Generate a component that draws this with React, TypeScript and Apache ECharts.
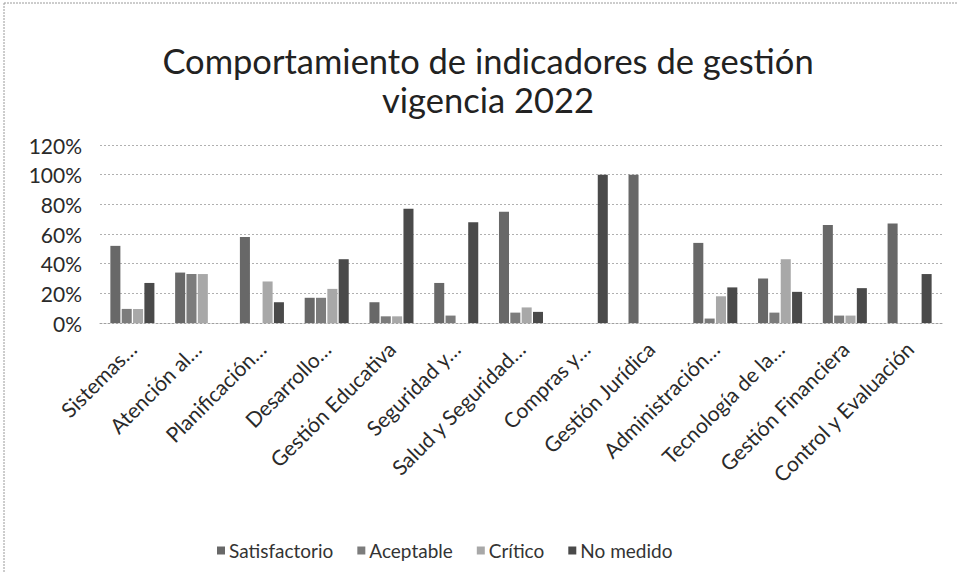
import React, { useEffect, useRef } from "react";
import * as echarts from "echarts";

const titleLines = ["Comportamiento de indicadores de gestión", "vigencia 2022"];

const categories = [
  "Sistemas…",
  "Atención al…",
  "Planificación…",
  "Desarrollo…",
  "Gestión Educativa",
  "Seguridad y…",
  "Salud y Seguridad…",
  "Compras y…",
  "Gestión Jurídica",
  "Administración…",
  "Tecnología de la…",
  "Gestión Financiera",
  "Control y Evaluación",
];

const seriesNames = ["Satisfactorio", "Aceptable", "Crítico", "No medido"];

const satisfactorio = [52, 34, 58, 17, 14, 27, 75, 0, 100, 54, 30, 66, 67];
const aceptable = [9.5, 33, 0, 17, 4.5, 5, 7, 0, 0, 3, 7, 5, 0];
const critico = [9.5, 33, 28, 23, 4.5, 0, 10.5, 0, 0, 18, 43, 5, 0];
const noMedido = [27, 0, 14, 43, 77, 68, 7.5, 100, 0, 24, 21, 23.5, 33];

const yMin = 0;
const yMax = 120;
const yInterval = 20;

const colors = ["#686868", "#7c7c7c", "#a8a8a8", "#4a4a4a"];

const FONT = "Lato, 'Open Sans', sans-serif";

export default function App() {
  const ref = useRef<HTMLDivElement>(null);

  useEffect(() => {
    if (!ref.current) return;
    const chart = echarts.init(ref.current, null, { renderer: "svg" });
    const values = [satisfactorio, aceptable, critico, noMedido];
    chart.setOption({
      animation: false,
      backgroundColor: "#ffffff",
      textStyle: { fontFamily: FONT },
      graphic: [
        {
          type: "line",
          shape: { x1: 4, y1: 3, x2: 958, y2: 3 },
          style: { stroke: "#9a9a9a", lineWidth: 1, lineDash: [2, 1] },
          silent: true,
        },
        {
          type: "line",
          shape: { x1: 4, y1: 3, x2: 4, y2: 572 },
          style: { stroke: "#9a9a9a", lineWidth: 1, lineDash: [2, 1] },
          silent: true,
        },
        {
          type: "text",
          x: 488,
          y: 41,
          style: {
            text: titleLines.join("\n"),
            textAlign: "center",
            fontFamily: FONT,
            fontSize: 34.5,
            lineHeight: 39,
            fill: "#222222",
          },
          silent: true,
        },
      ],
      legend: {
        data: seriesNames,
        left: 212,
        top: 536,
        itemWidth: 8,
        itemHeight: 8,
        itemGap: 24,
        icon: "rect",
        textStyle: { fontFamily: FONT, fontSize: 19, color: "#333333", padding: [0, 0, 0, -1] },
      },
      grid: {
        left: 100,
        right: 16,
        top: 145,
        bottom: 249,
        containLabel: false,
      },
      xAxis: {
        type: "category",
        data: categories,
        axisTick: { show: false },
        axisLine: { show: true, lineStyle: { color: "#a0a0a0", type: [2, 2], width: 1 } },
        axisLabel: {
          interval: 0,
          rotate: 45,
          margin: 22,
          fontFamily: FONT,
          fontSize: 21,
          color: "#2a2a2a",
        },
      },
      yAxis: {
        type: "value",
        min: yMin,
        max: yMax,
        interval: yInterval,
        axisLine: { show: false },
        axisTick: { show: false },
        axisLabel: {
          formatter: "{value}%",
          margin: 18,
          fontFamily: FONT,
          fontSize: 21,
          color: "#2a2a2a",
        },
        splitLine: { lineStyle: { color: "#b0b0b0", type: [2, 2], width: 1 } },
      },
      series: seriesNames.map((name, i) => ({
        name,
        type: "bar",
        data: values[i],
        barGap: "13%",
        barCategoryGap: "32%",
        itemStyle: { color: colors[i] },
      })),
    });
    return () => chart.dispose();
  }, []);

  return (
    <div
      ref={ref}
      style={{ position: "fixed", left: 0, top: 0, width: 958, height: 572 }}
    />
  );
}
